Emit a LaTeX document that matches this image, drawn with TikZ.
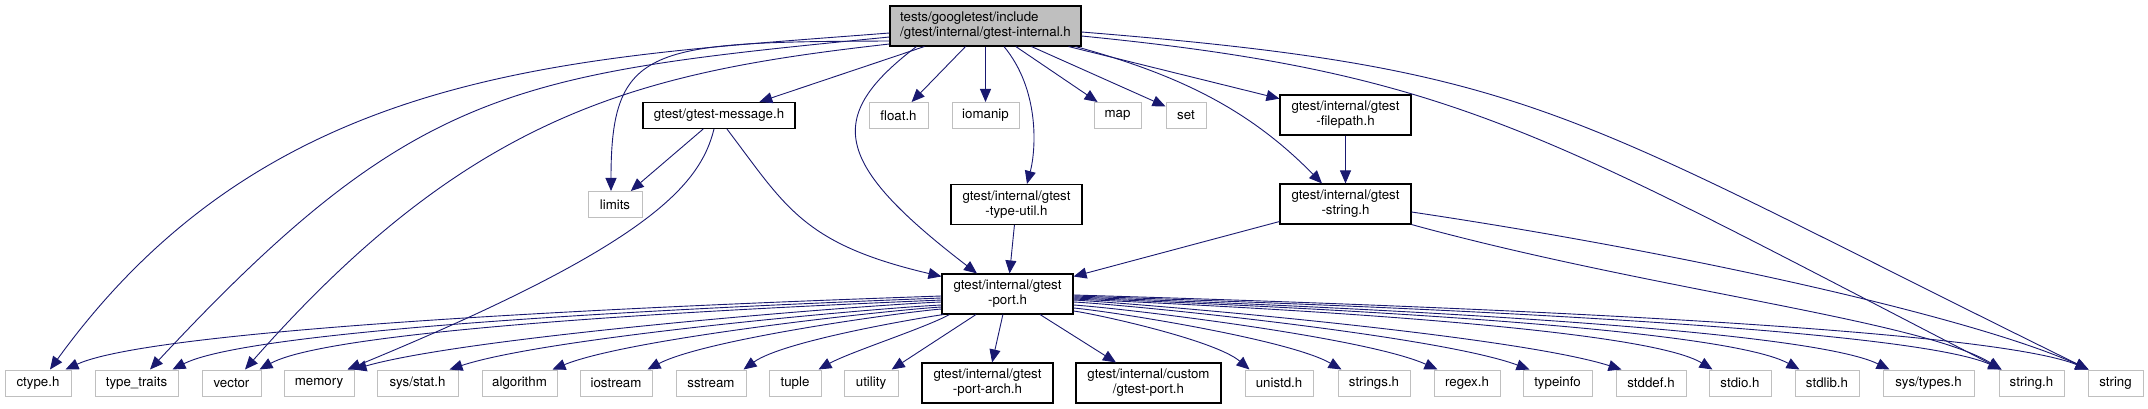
\documentclass[tikz,border=0pt]{standalone}
\usepackage{fontspec}
\setmainfont{TeX Gyre Heros}
\usepackage{xcolor}
\usepackage{tikz}
\usetikzlibrary{arrows.meta}
\definecolor{edgeblue}{HTML}{191970}
\definecolor{sysgray}{HTML}{BFBFBF}
\tikzset{
  hdr/.style={draw=black, fill=white, line width=1.1pt, minimum height=26pt, inner sep=2pt, align=center, font=\fontsize{13.3}{15}\selectfont},
  syshdr/.style={hdr, draw=sysgray, line width=1pt, minimum width=#1},
  projhdr/.style={hdr, minimum width=#1, minimum height=40pt},
  dep/.style={-{Triangle[length=13pt,width=11pt]}, draw=edgeblue, line width=0.9pt}
}

\begin{document}
\begin{tikzpicture}[x=1pt, y=-1pt]
  \useasboundingbox (0,0) rectangle (2148,409);

  % the file itself
  \node[hdr, fill=sysgray, minimum width=191pt, minimum height=40pt, align=left] (main) at (985.5,26)
    {tests/googletest/include\\/gtest/internal/gtest-internal.h};

  % second level
  \node[hdr, minimum width=152pt] (msg) at (719,115.5) {gtest/gtest-message.h};
  \node[syshdr=54pt] (limits) at (615,204.5) {limits};
  \node[syshdr=59pt] (floath) at (898.5,115.5) {float.h};
  \node[syshdr=67pt] (iomanip) at (985.5,115.5) {iomanip};
  \node[syshdr=47pt] (map) at (1117.5,115.5) {map};
  \node[syshdr=40pt] (set) at (1186,115.5) {set};
  \node[projhdr=131pt] (filepath) at (1345.5,115) {gtest/internal/gtest\\-filepath.h};
  \node[projhdr=131pt] (typeutil) at (1016.5,204.5) {gtest/internal/gtest\\-type-util.h};
  \node[projhdr=131pt] (gstring) at (1345.5,204) {gtest/internal/gtest\\-string.h};
  \node[projhdr=131pt] (port) at (1007.5,294) {gtest/internal/gtest\\-port.h};

  % bottom row
  \node[syshdr=66pt] (ctype) at (38,383) {ctype.h};
  \node[syshdr=83pt] (typetraits) at (136.5,383) {type\_traits};
  \node[syshdr=59pt] (vector) at (231.5,383) {vector};
  \node[syshdr=70pt] (memory) at (319,383) {memory};
  \node[syshdr=81pt] (sysstat) at (417.5,383) {sys/stat.h};
  \node[syshdr=75pt] (algorithm) at (519.5,383) {algorithm};
  \node[syshdr=72pt] (iostream) at (616,383) {iostream};
  \node[syshdr=70pt] (sstream) at (711,383) {sstream};
  \node[syshdr=52pt] (tuple) at (795,383) {tuple};
  \node[syshdr=54pt] (utility) at (871,383) {utility};
  \node[projhdr=131pt] (portarch) at (987.5,383) {gtest/internal/gtest\\-port-arch.h};
  \node[projhdr=145pt] (custom) at (1148.5,383) {gtest/internal/custom\\/gtest-port.h};
  \node[syshdr=68pt] (unistd) at (1279,383) {unistd.h};
  \node[syshdr=72pt] (stringsh) at (1374,383) {strings.h};
  \node[syshdr=66pt] (regex) at (1467,383) {regex.h};
  \node[syshdr=69pt] (typeinfo) at (1557.5,383) {typeinfo};
  \node[syshdr=70pt] (stddef) at (1651,383) {stddef.h};
  \node[syshdr=62pt] (stdio) at (1740,383) {stdio.h};
  \node[syshdr=64pt] (stdlib) at (1827,383) {stdlib.h};
  \node[syshdr=91pt] (systypes) at (1928.5,383) {sys/types.h};
  \node[syshdr=65pt] (stringh) at (2031.5,383) {string.h};
  \node[syshdr=55pt] (string) at (2115.5,383) {string};

  % includes of the file itself
  \draw[dep] ([yshift=-7pt]main.west) .. controls (569,58) and (270,66) .. ([xshift=12pt]ctype.north);
  \draw[dep] ([yshift=-11pt]main.west) .. controls (515,74) and (416,84) .. ([xshift=13.5pt]typetraits.north);
  \draw[dep] ([yshift=-15pt]main.west) .. controls (650,42) and (611,45) .. ([xshift=-4pt]limits.north);
  \draw[dep] ([yshift=-18pt]main.west) .. controls (641,72) and (473,111) .. ([xshift=13.5pt]vector.north);
  \draw[dep] (main) -- (msg);
  \draw[dep] ([xshift=27pt]main.south west) .. controls (824,117) and (833,163) .. ([xshift=-30.5pt]port.north);
  \draw[dep] (main) -- (floath);
  \draw[dep] (main) -- (iomanip);
  \draw[dep] ([xshift=18.5pt]main.south) .. controls (1040,90) and (1036,150) .. ([xshift=10.5pt]typeutil.north);
  \draw[dep] (main) -- (map);
  \draw[dep] (main) -- (set);
  \draw[dep] (main) -- (filepath);
  \draw[dep] ([xshift=-6pt]main.south east) .. controls (1180,75) and (1250,110) .. ([xshift=-23.5pt]gstring.north);
  \draw[dep] ([yshift=-10pt]main.east) .. controls (1456,73) and (1543,133) .. ([xshift=3pt]stringh.north west);
  \draw[dep] ([yshift=-6pt]main.east) .. controls (1541,69) and (1562,111) .. ([xshift=1pt]string.north west);

  % second level includes
  \draw[dep] (msg) -- (limits);
  \draw[dep] ([xshift=-5pt]msg.south) .. controls (700,185) and (650,245) .. ([xshift=-7pt]memory.north east);
  \draw[dep] ([xshift=8pt]msg.south) .. controls (786,207) and (803,244) .. ([yshift=-3pt]port.north west);
  \draw[dep] (filepath) -- (gstring);
  \draw[dep] (typeutil) -- (port);
  \draw[dep] (gstring) -- (port);
  \draw[dep] (gstring.south east) .. controls (1650,290) and (1920,320) .. ([xshift=3pt]stringh.north west);
  \draw[dep] ([yshift=-8pt]gstring.east) .. controls (1700,255) and (1980,320) .. ([xshift=1pt]string.north west);

  % gtest-port.h, to the left
  \draw[dep] ([yshift=-2pt]port.west) .. controls (827,300) and (170,322) .. ([xshift=-6pt]ctype.north east);
  \draw[dep] ([yshift=-4pt]port.west) .. controls (842,302) and (264,323) .. ([xshift=-6pt]typetraits.north east);
  \draw[dep] ([yshift=-6pt]port.west) .. controls (853,304) and (342,324) .. ([xshift=-2pt]vector.north east);
  \draw[dep] ([yshift=-8pt]port.west) .. controls (865,305) and (471,336) .. ([xshift=-1pt]memory.north east);
  \draw[dep] ([yshift=-11pt]port.west) .. controls (878,308) and (548,337) .. ([xshift=-9pt]sysstat.north east);
  \draw[dep] ([yshift=-13pt]port.west) .. controls (891,310) and (630,338) .. ([xshift=-5pt]algorithm.north east);
  \draw[dep] ([yshift=-15pt]port.west) .. controls (904,312) and (706,339) .. ([xshift=-5pt]iostream.north east);
  \draw[dep] ([xshift=2pt]port.south west) .. controls (919,318) and (783,341) .. ([xshift=-3pt]sstream.north east);
  \draw[dep] ([xshift=8pt]port.south west) .. controls (925,328) and (850,352) .. ([xshift=-3pt]tuple.north east);
  \draw[dep] (port) -- (utility);
  \draw[dep] (port) -- (portarch);
  \draw[dep] (port) -- (custom);

  % gtest-port.h, to the right
  \draw[dep] ([yshift=-17pt]port.east) .. controls (1096,314) and (1215,340) .. ([xshift=5pt]unistd.north west);
  \draw[dep] ([yshift=-14pt]port.east) .. controls (1108,311) and (1288,339) .. ([xshift=4pt]stringsh.north west);
  \draw[dep] ([yshift=-11pt]port.east) .. controls (1120,308) and (1365,337) .. ([xshift=4pt]regex.north west);
  \draw[dep] ([yshift=-8pt]port.east) .. controls (1132,305) and (1439,336) .. ([xshift=7pt]typeinfo.north west);
  \draw[dep] ([yshift=-6pt]port.east) .. controls (1144,304) and (1512,335) .. ([xshift=6pt]stddef.north west);
  \draw[dep] ([yshift=-5pt]port.east) .. controls (1156,303) and (1636,323) .. ([xshift=4pt]stdio.north west);
  \draw[dep] ([yshift=-4pt]port.east) .. controls (1168,302) and (1713,322) .. ([xshift=5pt]stdlib.north west);
  \draw[dep] ([yshift=-3pt]port.east) .. controls (1179,301) and (1792,322) .. ([xshift=7pt]systypes.north west);
  \draw[dep] ([yshift=-2pt]port.east) .. controls (1194,300) and (1893,321) .. ([xshift=3pt]stringh.north west);
  \draw[dep] ([yshift=-1pt]port.east) .. controls (1205,299) and (1967,320) .. ([xshift=1pt]string.north west);
\end{tikzpicture}
\end{document}
